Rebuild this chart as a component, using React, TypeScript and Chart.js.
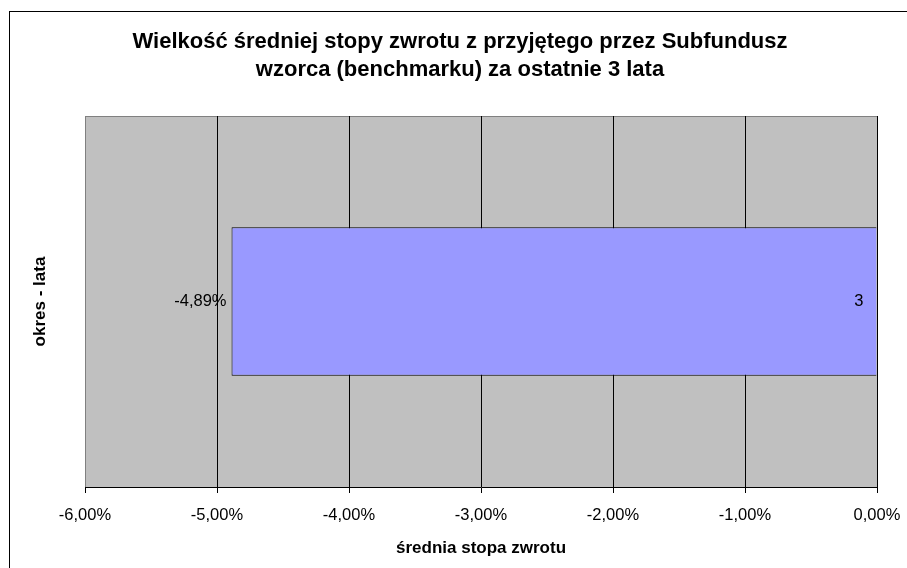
import React, { useEffect, useRef } from "react";
import { Chart, registerables } from "chart.js";

Chart.register(...registerables);

const TITLE_LINES = [
  "Wielkość średniej stopy zwrotu z przyjętego przez Subfundusz",
  "wzorca (benchmarku) za ostatnie 3 lata",
];
const CATEGORIES = ["3"];
const VALUES = [-4.89];
const X_MIN = -6;
const X_MAX = 0;
const X_STEP = 1;
const X_TITLE = "średnia stopa zwrotu";
const Y_TITLE = "okres - lata";

const FONT = "'Liberation Sans', Arial, Helvetica, sans-serif";

const fmtPct = (v: number) => {
  const n = Math.abs(v) < 1e-9 ? 0 : v;
  return n.toFixed(2).replace(".", ",") + "%";
};

const plotBg = {
  id: "plotBg",
  beforeDraw(chart: any) {
    const { ctx, chartArea: a } = chart;
    ctx.save();
    ctx.fillStyle = "#C0C0C0";
    ctx.fillRect(a.left, a.top, a.right - a.left, a.bottom - a.top);
    ctx.strokeStyle = "#808080";
    ctx.lineWidth = 1;
    ctx.beginPath();
    ctx.moveTo(a.left + 0.5, a.bottom);
    ctx.lineTo(a.left + 0.5, a.top + 0.5);
    ctx.lineTo(a.right, a.top + 0.5);
    ctx.stroke();
    ctx.restore();
  },
};

const barLabels = {
  id: "barLabels",
  afterDatasetsDraw(chart: any) {
    const { ctx } = chart;
    const meta = chart.getDatasetMeta(0);
    ctx.save();
    ctx.font = `16.5px ${FONT}`;
    ctx.fillStyle = "#000";
    ctx.textBaseline = "middle";
    meta.data.forEach((el: any, i: number) => {
      const p = el.getProps(["x", "y", "base"], true);
      ctx.textAlign = "right";
      ctx.fillText(fmtPct(VALUES[i]), p.x - 5, p.y);
      ctx.fillText(CATEGORIES[i], p.base - 13, p.y);
    });
    ctx.restore();
  },
};

export default function App() {
  const ref = useRef<HTMLCanvasElement>(null);
  useEffect(() => {
    if (!ref.current) return;
    const chart = new Chart(ref.current, {
      type: "bar",
      data: {
        labels: CATEGORIES,
        datasets: [
          {
            data: VALUES,
            backgroundColor: "#9999FF",
            borderColor: "#000000",
            borderWidth: 1,
            barPercentage: 0.4,
            categoryPercentage: 1,
          },
        ],
      },
      options: {
        indexAxis: "y",
        animation: false,
        responsive: false,
        maintainAspectRatio: false,
        layout: { padding: { left: 43, right: 30, top: 0, bottom: 0 } },
        plugins: {
          legend: { display: false },
          tooltip: { enabled: false },
          title: {
            display: true,
            text: TITLE_LINES,
            color: "#000",
            font: { family: FONT, size: 22, weight: "bold", lineHeight: 28 / 22 },
            padding: { top: 27.5, bottom: 32.5 },
          },
        },
        scales: {
          x: {
            type: "linear",
            min: X_MIN,
            max: X_MAX,
            ticks: {
              stepSize: X_STEP,
              color: "#000",
              font: { family: FONT, size: 16.5 },
              padding: 13,
              maxRotation: 0,
              callback: (v: any) => fmtPct(Number(v)),
            },
            grid: {
              color: (c: any) => (c.tick && c.tick.value === X_MIN ? "#808080" : "#000"),
              tickColor: "#000",
              tickLength: 6,
              lineWidth: 1,
            },
            border: { display: true, color: "#000", width: 1 },
            title: {
              display: true,
              text: X_TITLE,
              color: "#000",
              font: { family: FONT, size: 17, weight: "bold", lineHeight: 1.2 },
              padding: { top: 0, bottom: 9 },
            },
            afterFit: (s: any) => {
              s.height = 81;
              s.paddingLeft = 0;
              s.paddingRight = 0;
            },
          },
          y: {
            type: "category",
            ticks: { display: false },
            grid: { display: false, drawTicks: false },
            border: { display: false },
            title: {
              display: true,
              text: Y_TITLE,
              color: "#000",
              font: { family: FONT, size: 17, weight: "bold", lineHeight: 1.2 },
              padding: { top: -13.2, bottom: 0 },
            },
            afterFit: (s: any) => {
              s.width = 42;
            },
          },
        },
      },
      plugins: [plotBg, barLabels],
    });
    return () => chart.destroy();
  }, []);

  return (
    <div style={{ position: "absolute", left: 0, top: 0, width: 907, height: 568, background: "#fff" }}>
      <div
        style={{
          position: "absolute",
          left: 9,
          top: 11,
          width: 898,
          height: 557,
          borderLeft: "1px solid #000",
          borderTop: "1px solid #000",
        }}
      />
      <canvas ref={ref} width={907} height={568} style={{ position: "absolute", left: 0, top: 0, width: 907, height: 568 }} />
    </div>
  );
}
